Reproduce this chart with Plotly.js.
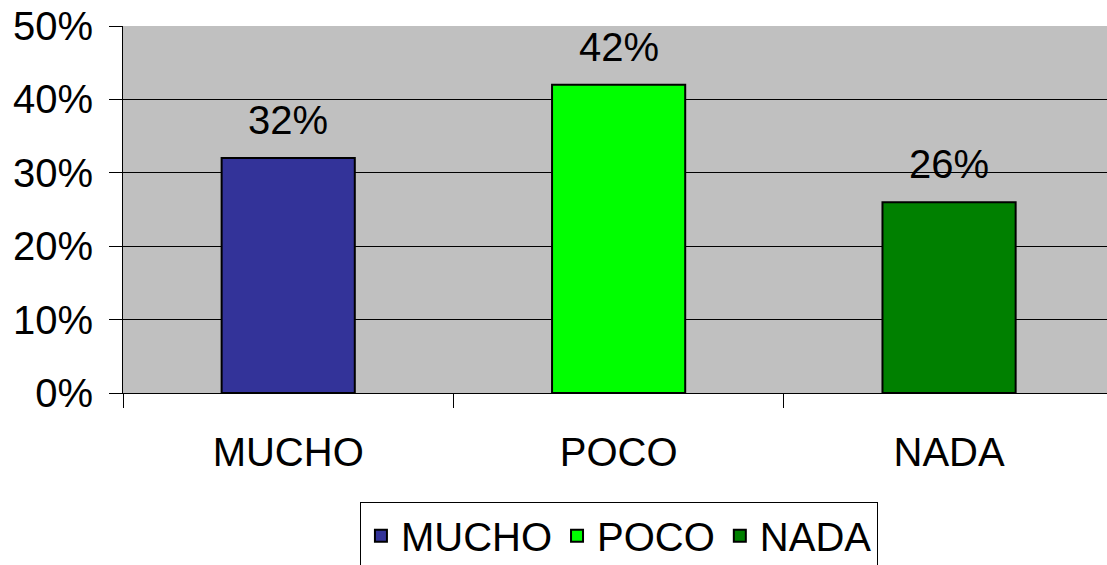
<!DOCTYPE html>
<html><head><meta charset="utf-8">
<script src="https://cdn.plot.ly/plotly-3.0.1.min.js"></script>
<style>html,body{margin:0;padding:0;background:#fff}#chart{width:1107px;height:565px}</style>
</head><body><div id="chart"></div>
<script>
const categories = ["MUCHO", "POCO", "NADA"];
const values = [0.32, 0.42, 0.26];
const colors = ["#333399", "#00FF00", "#008000"];
const yTicks = [0, 0.1, 0.2, 0.3, 0.4, 0.5];

const FONT = "Liberation Sans, Arial, sans-serif";
const traces = categories.map((c, i) => ({
  type: "bar",
  name: c,
  x: [c],
  y: [values[i]],
  width: 0.403,
  marker: {color: colors[i], line: {color: "#000", width: 2}},
  hoverinfo: "skip"
}));
const annotations = categories.map((c, i) => ({
  x: c, y: values[i], xref: "x", yref: "y",
  text: Math.round(values[i] * 100) + "%",
  showarrow: false, yanchor: "bottom", yshift: 14,
  font: {family: FONT, size: 40, color: "#000"}
}));
Plotly.newPlot("chart", traces, {
  width: 1107, height: 565,
  margin: {l: 123, r: 0, t: 26, b: 172, autoexpand: false},
  paper_bgcolor: "#fff",
  plot_bgcolor: "#C0C0C0",
  barmode: "overlay",
  font: {family: FONT, size: 40, color: "#000"},
  xaxis: {
    type: "category", categoryorder: "array", categoryarray: categories,
    range: [-0.5, 2.478], automargin: false,
    tickson: "boundaries", ticks: "outside", ticklen: 14, tickcolor: "#000", tickwidth: 1,
    showline: true, linecolor: "#000", linewidth: 1,
    ticklabelstandoff: 24,
    tickfont: {family: FONT, size: 40, color: "#000"},
    showgrid: false, zeroline: false, fixedrange: true
  },
  yaxis: {
    range: [0, 0.5], tickvals: yTicks, tickformat: ".0%", automargin: false,
    ticks: "outside", ticklen: 13, tickcolor: "#000", tickwidth: 1,
    showline: true, linecolor: "#000", linewidth: 1,
    showgrid: true, gridcolor: "#000", gridwidth: 1,
    zeroline: false, ticklabelstandoff: 8,
    tickfont: {family: FONT, size: 40, color: "#000"},
    fixedrange: true
  },
  legend: {
    orientation: "h", x: 0.504, xanchor: "center", y: -0.298, yanchor: "top",
    bordercolor: "#000", borderwidth: 1, bgcolor: "#fff",
    font: {family: FONT, size: 40, color: "#000"},
    itemwidth: 30, tracegroupgap: 0, traceorder: "normal"
  },
  annotations: annotations,
  showlegend: true
}, {displayModeBar: false, staticPlot: true});
</script></body></html>
